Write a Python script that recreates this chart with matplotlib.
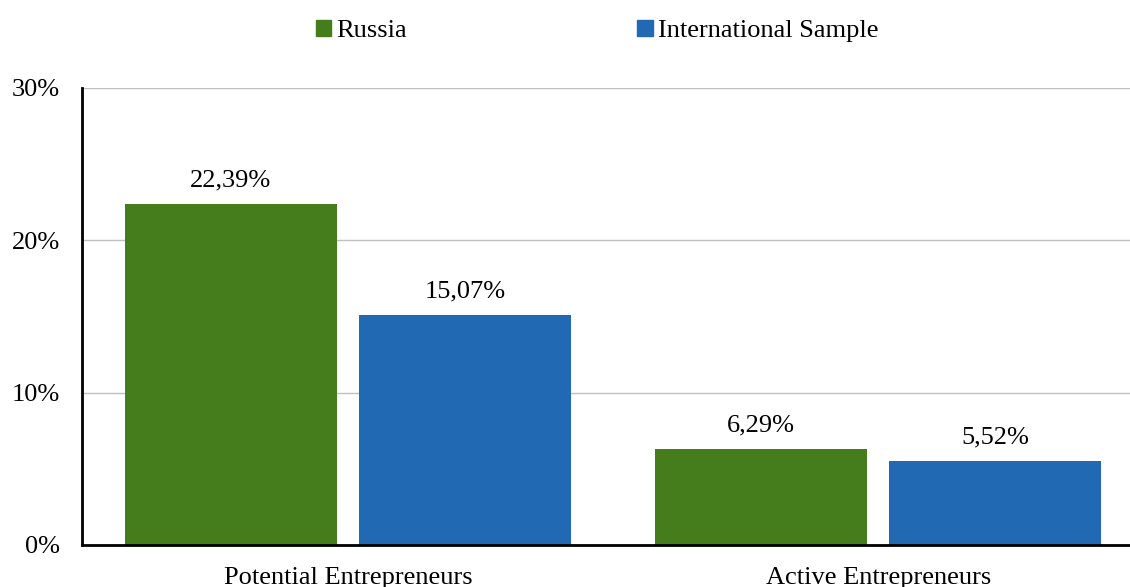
import numpy as np
import matplotlib.pyplot as plt
from matplotlib.patches import Patch

categories = ['Potential Entrepreneurs', 'Active Entrepreneurs']
russia = [22.39, 6.29]
international = [15.07, 5.52]
series_names = ['Russia', 'International Sample']
yticks = [0, 10, 20, 30]

green = '#457d1c'
blue = '#2269b3'

plt.rcParams['font.family'] = ['Liberation Serif', 'DejaVu Serif']

fig = plt.figure(figsize=(11.3, 5.87), dpi=100)
ax = fig.add_axes([0.0726, 0.0716, 0.9274, 0.7786])

x = np.arange(len(categories))
off = 0.221
w = 0.4
b1 = ax.bar(x - off, russia, w, color=green, zorder=2)
b2 = ax.bar(x + off, international, w, color=blue, zorder=2)

for bars, vals in [(b1, russia), (b2, international)]:
    for rect, v in zip(bars, vals):
        ax.annotate(f'{v:.2f}%'.replace('.', ','),
                    (rect.get_x() + rect.get_width() / 2, rect.get_height()),
                    xytext=(0, 9), textcoords='offset points',
                    ha='center', va='bottom', fontsize=19)

ax.set_xlim(-0.502, 1.475)
ax.set_ylim(0, 30)
ax.set_yticks(yticks)
ax.set_yticklabels([f'{t}%' for t in yticks])
ax.set_xticks(x)
ax.set_xticklabels(categories)
ax.tick_params(axis='both', length=0, labelsize=19)
ax.tick_params(axis='y', pad=16)
ax.tick_params(axis='x', pad=16)

ax.yaxis.grid(True, color='#c0c0c0', linewidth=1, zorder=1)
ax.set_axisbelow(True)
for s in ['top', 'right']:
    ax.spines[s].set_visible(False)
ax.spines['left'].set_linewidth(2)
ax.spines['bottom'].set_linewidth(2)
ax.spines['left'].set_zorder(4)
ax.spines['bottom'].set_zorder(4)

handles = [Patch(color=green), Patch(color=blue)]
fig.legend(handles, series_names, loc='center', bbox_to_anchor=(597 / 1130, 1 - 31 / 587),
           ncol=2, frameon=False, fontsize=19, handlelength=0.6, handleheight=0.6,
           handletextpad=0.2, columnspacing=8.7)

fig.savefig('out.png', dpi=100)
